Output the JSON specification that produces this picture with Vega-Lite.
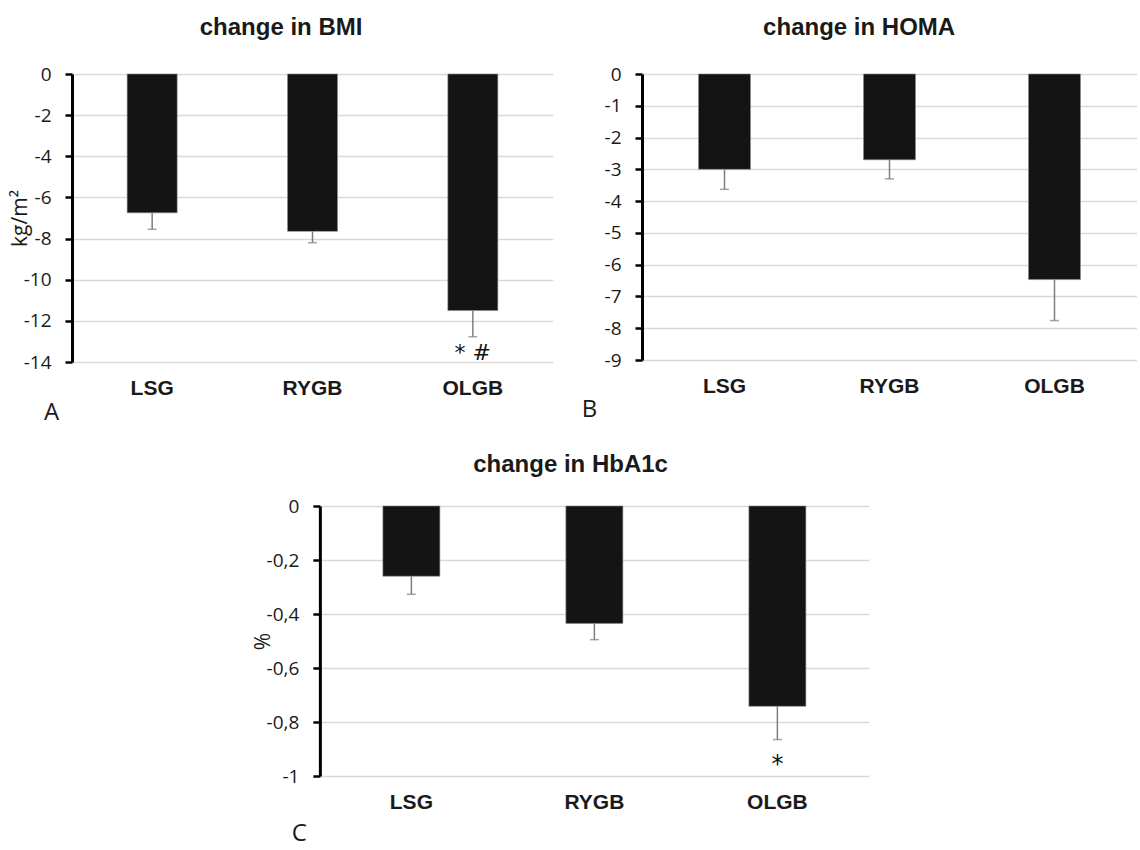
{
  "$schema": "https://vega.github.io/schema/vega-lite/v6.json",
  "padding": {"left": 9, "top": 16, "right": 0, "bottom": 5},
  "background": "white",
  "datasets": {
    "bmi": [
      {"group": "LSG", "mean": -6.75, "low": -7.55, "sig": ""},
      {"group": "RYGB", "mean": -7.65, "low": -8.2, "sig": ""},
      {"group": "OLGB", "mean": -11.5, "low": -12.77, "sig": "* #"}
    ],
    "homa": [
      {"group": "LSG", "mean": -3.0, "low": -3.63, "sig": ""},
      {"group": "RYGB", "mean": -2.7, "low": -3.3, "sig": ""},
      {"group": "OLGB", "mean": -6.47, "low": -7.76, "sig": ""}
    ],
    "hba1c": [
      {"group": "LSG", "mean": -0.26, "low": -0.327, "sig": ""},
      {"group": "RYGB", "mean": -0.435, "low": -0.495, "sig": ""},
      {"group": "OLGB", "mean": -0.742, "low": -0.865, "sig": "*"}
    ]
  },
  "spacing": 29,
  "center": true,
  "vconcat": [
    {
      "spacing": 28,
      "hconcat": [
        {
          "title": {"text": "change in BMI", "offset": 25},
          "width": 481,
          "height": 288,
          "data": {"name": "bmi"},
          "encoding": {
            "x": {"field": "group", "type": "nominal", "sort": null,
                  "axis": {"title": "A", "titleX": -21, "titleY": 50}}
          },
          "layer": [
            {"mark": {"type": "bar", "width": 50, "color": "#141414", "stroke": "#8c8c8c", "strokeWidth": 0.6},
             "encoding": {"y": {"field": "mean", "type": "quantitative",
                                "scale": {"domain": [-14, 0], "nice": false},
                                "axis": {"title": "kg/m²", "tickCount": 20, "values": [0, -2, -4, -6, -8, -10, -12, -14]}}}},
            {"mark": {"type": "rule", "color": "#7f7f7f", "strokeWidth": 1.5},
             "encoding": {"y": {"field": "mean", "type": "quantitative", "axis": {"title": "kg/m²"}}, "y2": {"field": "low"}}},
            {"mark": {"type": "tick", "color": "#7f7f7f", "thickness": 1.5, "size": 9},
             "encoding": {"y": {"field": "low", "type": "quantitative", "axis": {"title": "kg/m²"}}}},
            {"mark": {"type": "text", "baseline": "top", "dy": 6, "fontSize": 22, "font": "DejaVu Sans", "color": "#111"},
             "encoding": {"y": {"field": "low", "type": "quantitative", "axis": {"title": "kg/m²"}}, "text": {"field": "sig"}}}
          ]
        },
        {
          "title": {"text": "change in HOMA", "offset": 25},
          "width": 495,
          "height": 286,
          "data": {"name": "homa"},
          "encoding": {
            "x": {"field": "group", "type": "nominal", "sort": null,
                  "axis": {"title": "B", "titleX": -53, "titleY": 49}}
          },
          "layer": [
            {"mark": {"type": "bar", "width": 52, "color": "#141414", "stroke": "#8c8c8c", "strokeWidth": 0.6},
             "encoding": {"y": {"field": "mean", "type": "quantitative",
                                "scale": {"domain": [-9, 0], "nice": false},
                                "axis": {"title": null, "tickCount": 20, "values": [0, -1, -2, -3, -4, -5, -6, -7, -8, -9]}}}},
            {"mark": {"type": "rule", "color": "#7f7f7f", "strokeWidth": 1.5},
             "encoding": {"y": {"field": "mean", "type": "quantitative", "axis": {"title": null}}, "y2": {"field": "low"}}},
            {"mark": {"type": "tick", "color": "#7f7f7f", "thickness": 1.5, "size": 9},
             "encoding": {"y": {"field": "low", "type": "quantitative", "axis": {"title": null}}}}
          ]
        }
      ]
    },
    {
      "title": {"text": "change in HbA1c", "offset": 20},
      "width": 549,
      "height": 270,
      "data": {"name": "hba1c"},
      "resolve": {"axis": {"y": "independent"}},
      "encoding": {
        "x": {"field": "group", "type": "nominal", "sort": null,
              "axis": {"title": "C", "titleX": -21, "titleY": 57}}
      },
      "layer": [
        {"mark": {"type": "bar", "width": 57, "color": "#141414", "stroke": "#8c8c8c", "strokeWidth": 0.6},
         "encoding": {"y": {"field": "mean", "type": "quantitative",
                            "scale": {"domain": [-1, 0], "nice": false},
                            "axis": {"title": "%", "tickCount": 20, "values": [0, -0.2, -0.4, -0.6, -0.8, -1]}}}},
        {"mark": {"type": "rule", "color": "#7f7f7f", "strokeWidth": 1.5},
         "encoding": {"y": {"field": "mean", "type": "quantitative", "axis": null}, "y2": {"field": "low"}}},
        {"mark": {"type": "tick", "color": "#7f7f7f", "thickness": 1.5, "size": 9},
         "encoding": {"y": {"field": "low", "type": "quantitative", "axis": null}}},
        {"mark": {"type": "text", "baseline": "top", "dy": 13, "fontSize": 24, "font": "DejaVu Sans", "color": "#111"},
         "encoding": {"y": {"field": "low", "type": "quantitative",
                            "axis": {"orient": "right", "title": null, "labels": false, "domain": false, "grid": false,
                                     "ticks": true, "tickSize": 19, "tickColor": "transparent", "values": [0]}},
                      "text": {"field": "sig"}}}
      ]
    }
  ],
  "config": {
    "view": {"stroke": null},
    "font": "Liberation Sans",
    "title": {"fontSize": 24, "fontWeight": "bold", "font": "Liberation Sans", "color": "#1a1a1a", "anchor": "middle", "frame": "bounds"},
    "axisY": {
      "domainColor": "#000000", "domainWidth": 3, "tickColor": "#000000", "tickWidth": 2.5, "tickSize": 7,
      "labelFont": "Open Sans", "labelFontSize": 19, "labelColor": "#1a1a1a", "labelPadding": 14, "labelOverlap": false,
      "labelExpr": "replace(replace(format(datum.value, '~g'), '−', '-'), '.', ',')",
      "gridColor": "#d9d9d9", "gridWidth": 1.5,
      "titleFont": "Open Sans", "titleFontSize": 21, "titleFontWeight": "normal", "titleColor": "#1a1a1a", "titlePadding": -7
    },
    "axisX": {
      "domain": false, "ticks": false, "grid": false,
      "labelFont": "Liberation Sans", "labelFontWeight": "bold", "labelFontSize": 21, "labelColor": "#1a1a1a",
      "labelPadding": 15, "labelAngle": 0,
      "titleFont": "Open Sans", "titleFontWeight": "normal", "titleFontSize": 24, "titleColor": "#1a1a1a",
      "titleAnchor": "start", "titleAlign": "center", "titleBaseline": "middle"
    }
  }
}
